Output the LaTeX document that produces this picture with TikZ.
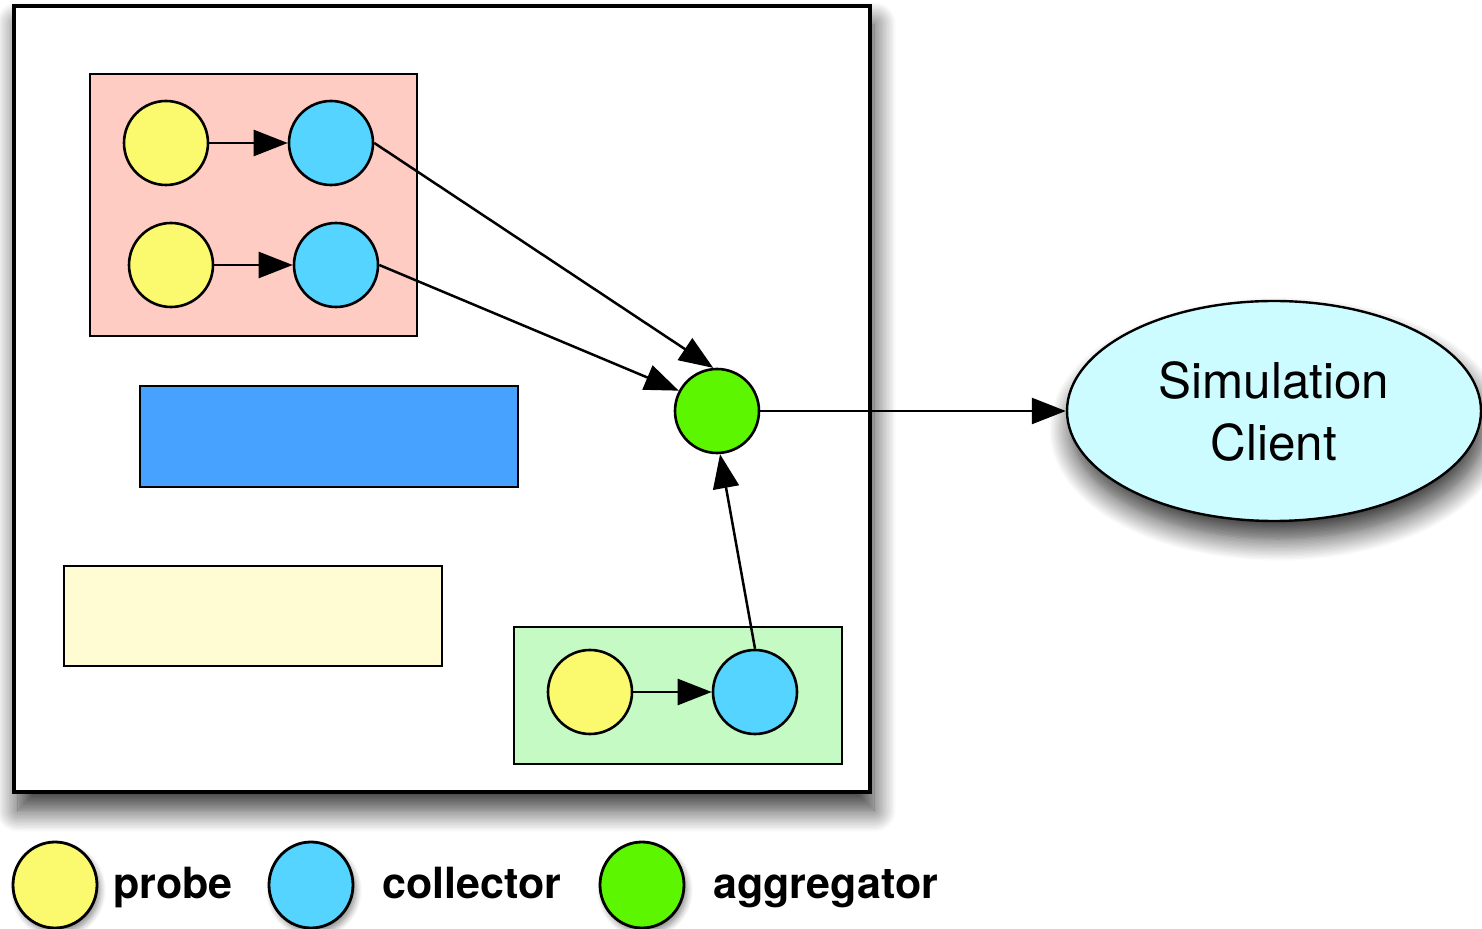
\documentclass[tikz,border=0pt]{standalone}
\usepackage{fontspec}
\setmainfont{TeX Gyre Heros}
\usetikzlibrary{arrows.meta,shapes.geometric,shadows.blur}
\definecolor{cyel}{HTML}{FBFA6E}
\definecolor{cblu}{HTML}{54D4FF}
\definecolor{cgrn}{HTML}{5CF700}
\definecolor{cpink}{HTML}{FFCCC4}
\definecolor{crect}{HTML}{47A1FF}
\definecolor{clyel}{HTML}{FFFCD4}
\definecolor{cgbox}{HTML}{C6FAC4}
\definecolor{cell}{HTML}{CCFCFF}
\tikzset{
  dot/.style={circle, draw=black, line width=1.3pt, minimum size=42pt, inner sep=0pt},
  probe/.style={dot, fill=cyel},
  coll/.style={dot, fill=cblu},
  aggr/.style={dot, fill=cgrn},
  legdot/.style={ellipse, draw=black, line width=1.4pt, minimum width=42pt, minimum height=43pt, inner sep=0pt,
     blur shadow={shadow xshift=1.5pt, shadow yshift=-2.5pt, shadow blur radius=3pt, shadow blur steps=8, shadow opacity=45}},
  boxr/.style={draw=black, line width=1.2pt},
  arr/.style={-{Triangle[length=17pt,width=13pt]}, line width=1.25pt, draw=black},
  legtxt/.style={anchor=base west, font=\bfseries\fontsize{21.5pt}{24pt}\selectfont, inner sep=0pt},
  bigshadow/.style={blur shadow={shadow xshift=2pt, shadow yshift=-9pt, shadow blur radius=11pt, shadow blur steps=16, shadow opacity=80}},
}
\begin{document}
\begin{tikzpicture}[x=0.5pt,y=-0.5pt]
\path[use as bounding box, clip] (0,0) rectangle (1482,929);
% main container
\draw[line width=1.6pt, fill=white, bigshadow] (14,6) rectangle (870,792);
% inner boxes
\draw[boxr, fill=cpink] (90,74) rectangle (417,336);
\draw[boxr, fill=crect] (140,386) rectangle (518,487);
\draw[boxr, fill=clyel] (64,566) rectangle (442,666);
\draw[boxr, fill=cgbox] (514,627) rectangle (842,764);
% nodes
\node[probe] (p1) at (166,143) {};
\node[coll]  (c1) at (331,143) {};
\node[probe] (p2) at (171,265) {};
\node[coll]  (c2) at (336,265) {};
\node[probe] (p3) at (590,692) {};
\node[coll]  (c3) at (755,692) {};
\node[aggr]  (ag) at (717,411) {};
\node[ellipse, draw=black, line width=1.2pt, fill=cell, minimum width=207pt, minimum height=110pt, inner sep=0pt,
      align=center, font=\fontsize{24.7pt}{31pt}\selectfont, bigshadow]
  (sc) at (1274,411) {Simulation\\Client};
% connectors
\draw[arr] (p1) -- (c1);
\draw[arr] (p2) -- (c2);
\draw[arr] (p3) -- (c3);
\draw[arr] (c1.east) -- (ag.95);
\draw[arr] (c2.east) -- (ag.152);
\draw[arr] (c3.north) -- (ag.-86);
\draw[arr] (ag) -- (sc);
% legend
\node[legdot, fill=cyel] (lp) at (55,885) {};
\node[legtxt] (lpt) at (113,898) {probe};
\node[legdot, fill=cblu] (lc) at (311,885) {};
\node[legtxt] (lct) at (382,898) {collector};
\node[legdot, fill=cgrn] (la) at (642,885) {};
\node[legtxt] (lat) at (713,898) {aggregator};
\end{tikzpicture}
\end{document}
